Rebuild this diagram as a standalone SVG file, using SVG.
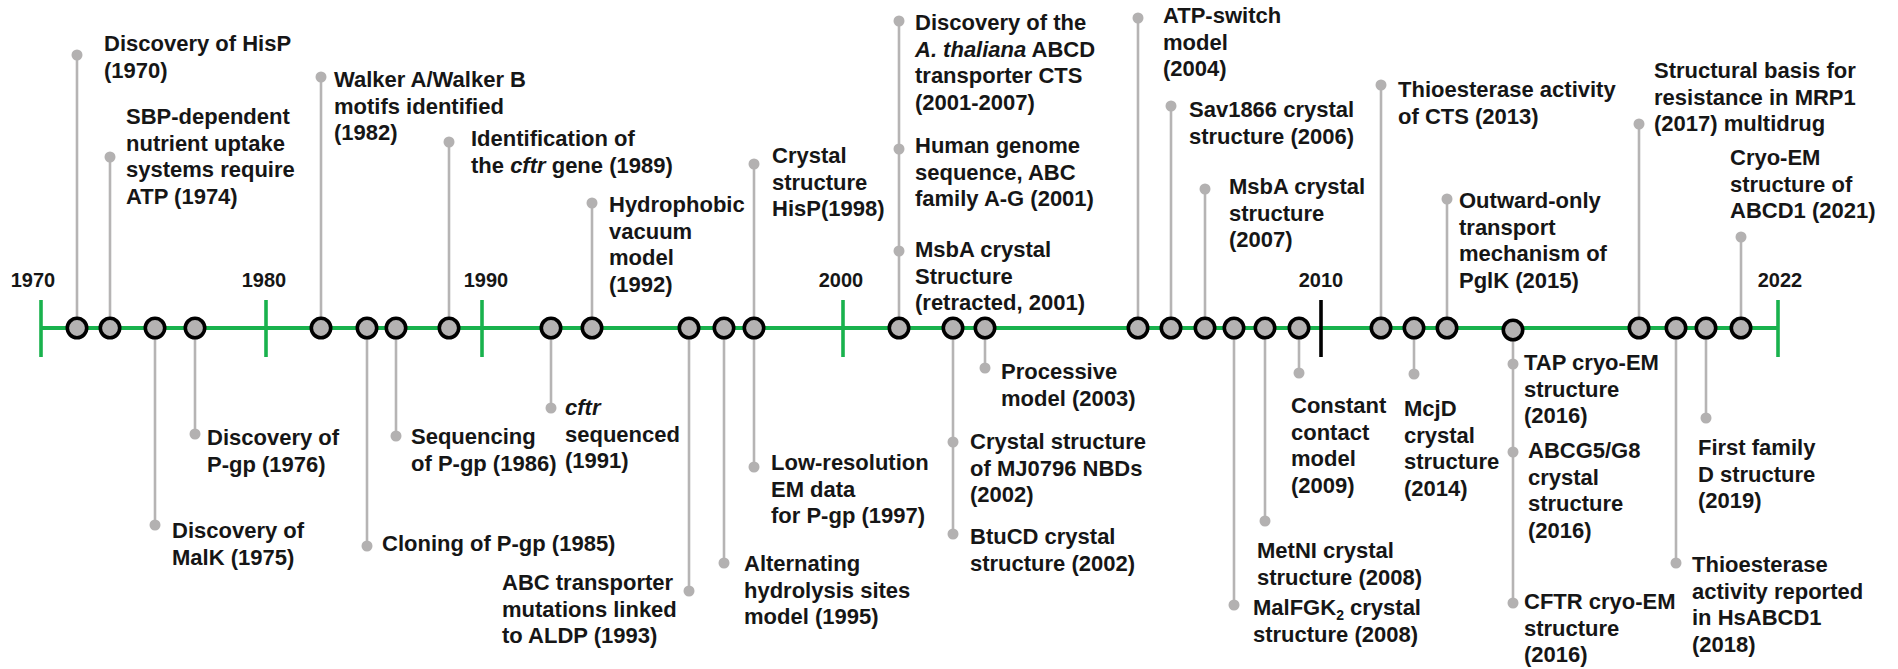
<svg xmlns="http://www.w3.org/2000/svg" width="1898" height="669" viewBox="0 0 1898 669">
<style>
.stem{stroke:#b6b4b4;stroke-width:2.6;fill:none}
.dot{fill:#b3b1b1}
.ev{fill:#b4b2b2;stroke:#000;stroke-width:3.6}
.axis{stroke:#19b24d;stroke-width:4;fill:none}
.tick{stroke:#19b24d;stroke-width:3.6}
.tick10{stroke:#000;stroke-width:3.6}
text{font-family:"Liberation Sans",Arial,sans-serif;font-weight:bold;fill:#161616}
.lbl{font-size:22px}
.yr{font-size:20px;text-anchor:middle}
.it{font-style:italic}
</style>
<rect width="1898" height="669" fill="#fff"/>
<g id="connectors">
<line class="stem" x1="77" y1="318" x2="77" y2="55"/>
<line class="stem" x1="110" y1="318" x2="110" y2="157"/>
<line class="stem" x1="155" y1="338" x2="155" y2="525"/>
<line class="stem" x1="195" y1="338" x2="195" y2="434"/>
<line class="stem" x1="321" y1="318" x2="321" y2="77"/>
<line class="stem" x1="367" y1="338" x2="367" y2="546"/>
<line class="stem" x1="396" y1="338" x2="396" y2="436"/>
<line class="stem" x1="449" y1="318" x2="449" y2="142"/>
<line class="stem" x1="551" y1="338" x2="551" y2="408"/>
<line class="stem" x1="592" y1="318" x2="592" y2="203"/>
<line class="stem" x1="689" y1="338" x2="689" y2="591"/>
<line class="stem" x1="724" y1="338" x2="724" y2="563"/>
<line class="stem" x1="754" y1="318" x2="754" y2="164"/>
<line class="stem" x1="754" y1="338" x2="754" y2="467"/>
<line class="stem" x1="899" y1="318" x2="899" y2="21"/>
<line class="stem" x1="953" y1="338" x2="953" y2="534"/>
<line class="stem" x1="985" y1="338" x2="985" y2="368"/>
<line class="stem" x1="1138" y1="318" x2="1138" y2="18"/>
<line class="stem" x1="1171" y1="318" x2="1171" y2="106"/>
<line class="stem" x1="1205" y1="318" x2="1205" y2="189"/>
<line class="stem" x1="1234" y1="338" x2="1234" y2="605"/>
<line class="stem" x1="1265" y1="338" x2="1265" y2="521"/>
<line class="stem" x1="1299" y1="338" x2="1299" y2="373"/>
<line class="stem" x1="1381" y1="318" x2="1381" y2="85"/>
<line class="stem" x1="1414" y1="338" x2="1414" y2="374"/>
<line class="stem" x1="1447" y1="318" x2="1447" y2="199"/>
<line class="stem" x1="1513" y1="340" x2="1513" y2="603"/>
<line class="stem" x1="1639" y1="318" x2="1639" y2="124"/>
<line class="stem" x1="1676" y1="338" x2="1676" y2="563"/>
<line class="stem" x1="1706" y1="338" x2="1706" y2="418"/>
<line class="stem" x1="1741" y1="318" x2="1741" y2="237"/>
</g>
<g id="axis">
<line class="axis" x1="41" y1="328" x2="1778" y2="328"/>
<line class="tick" x1="41" y1="300" x2="41" y2="357"/>
<line class="tick" x1="266" y1="300" x2="266" y2="357"/>
<line class="tick" x1="482" y1="300" x2="482" y2="357"/>
<line class="tick" x1="843" y1="300" x2="843" y2="357"/>
<line class="tick10" x1="1321" y1="300" x2="1321" y2="357"/>
<line class="tick" x1="1778" y1="300" x2="1778" y2="357"/>
<text class="yr" x="33" y="287">1970</text>
<text class="yr" x="264" y="287">1980</text>
<text class="yr" x="486" y="287">1990</text>
<text class="yr" x="841" y="287">2000</text>
<text class="yr" x="1321" y="287">2010</text>
<text class="yr" x="1780" y="287">2022</text>
</g>
<g id="e1970"><circle class="dot" cx="77" cy="55" r="5.5"/><circle class="ev" cx="77" cy="328" r="9.7"/>
<text class="lbl" x="104" y="51">Discovery of HisP<tspan x="104" dy="26.7">(1970)</tspan></text></g>
<g id="e1974"><circle class="dot" cx="110" cy="157" r="5.5"/><circle class="ev" cx="110" cy="328" r="9.7"/>
<text class="lbl" x="126" y="124">SBP-dependent<tspan x="126" dy="26.7">nutrient uptake</tspan><tspan x="126" dy="26.7">systems require</tspan><tspan x="126" dy="26.7">ATP (1974)</tspan></text></g>
<g id="e1975"><circle class="dot" cx="155" cy="525" r="5.5"/><circle class="ev" cx="155" cy="328" r="9.7"/>
<text class="lbl" x="172" y="538">Discovery of<tspan x="172" dy="26.7">MalK (1975)</tspan></text></g>
<g id="e1976"><circle class="dot" cx="195" cy="434" r="5.5"/><circle class="ev" cx="195" cy="328" r="9.7"/>
<text class="lbl" x="207" y="445">Discovery of<tspan x="207" dy="26.7">P-gp (1976)</tspan></text></g>
<g id="e1982"><circle class="dot" cx="321" cy="77" r="5.5"/><circle class="ev" cx="321" cy="328" r="9.7"/>
<text class="lbl" x="334" y="87">Walker A/Walker B<tspan x="334" dy="26.7">motifs identified</tspan><tspan x="334" dy="26.7">(1982)</tspan></text></g>
<g id="e1985"><circle class="dot" cx="367" cy="546" r="5.5"/><circle class="ev" cx="367" cy="328" r="9.7"/>
<text class="lbl" x="382" y="551">Cloning of P-gp (1985)</text></g>
<g id="e1986"><circle class="dot" cx="396" cy="436" r="5.5"/><circle class="ev" cx="396" cy="328" r="9.7"/>
<text class="lbl" x="411" y="444">Sequencing<tspan x="411" dy="26.7">of P-gp (1986)</tspan></text></g>
<g id="e1989"><circle class="dot" cx="449" cy="142" r="5.5"/><circle class="ev" cx="449" cy="328" r="9.7"/>
<text class="lbl" x="471" y="146">Identification of<tspan x="471" dy="26.7">the <tspan class="it">cftr</tspan> gene (1989)</tspan></text></g>
<g id="e1991"><circle class="dot" cx="551" cy="408" r="5.5"/><circle class="ev" cx="551" cy="328" r="9.7"/>
<text class="lbl" x="565" y="415"><tspan class="it">cftr</tspan><tspan x="565" dy="26.7">sequenced</tspan><tspan x="565" dy="26.7">(1991)</tspan></text></g>
<g id="e1992"><circle class="dot" cx="592" cy="203" r="5.5"/><circle class="ev" cx="592" cy="328" r="9.7"/>
<text class="lbl" x="609" y="212">Hydrophobic<tspan x="609" dy="26.7">vacuum</tspan><tspan x="609" dy="26.7">model</tspan><tspan x="609" dy="26.7">(1992)</tspan></text></g>
<g id="e1993"><circle class="dot" cx="689" cy="591" r="5.5"/><circle class="ev" cx="689" cy="328" r="9.7"/>
<text class="lbl" x="502" y="590">ABC transporter<tspan x="502" dy="26.7">mutations linked</tspan><tspan x="502" dy="26.7">to ALDP (1993)</tspan></text></g>
<g id="e1995"><circle class="dot" cx="724" cy="563" r="5.5"/><circle class="ev" cx="724" cy="328" r="9.7"/>
<text class="lbl" x="744" y="571">Alternating<tspan x="744" dy="26.7">hydrolysis sites</tspan><tspan x="744" dy="26.7">model (1995)</tspan></text></g>
<g id="e1997-1998"><circle class="dot" cx="754" cy="164" r="5.5"/><circle class="dot" cx="754" cy="467" r="5.5"/><circle class="ev" cx="754" cy="328" r="9.7"/>
<text class="lbl" x="772" y="163">Crystal<tspan x="772" dy="26.7">structure</tspan><tspan x="772" dy="26.7">HisP(1998)</tspan></text>
<text class="lbl" x="771" y="470">Low-resolution<tspan x="771" dy="26.7">EM data</tspan><tspan x="771" dy="26.7">for P-gp (1997)</tspan></text></g>
<g id="e2001"><circle class="dot" cx="899" cy="21" r="5.5"/><circle class="dot" cx="899" cy="149" r="5.5"/><circle class="dot" cx="899" cy="251" r="5.5"/><circle class="ev" cx="899" cy="328" r="9.7"/>
<text class="lbl" x="915" y="30">Discovery of the<tspan x="915" dy="26.7"><tspan class="it">A. thaliana</tspan> ABCD</tspan><tspan x="915" dy="26.7">transporter CTS</tspan><tspan x="915" dy="26.7">(2001-2007)</tspan></text>
<text class="lbl" x="915" y="153">Human genome<tspan x="915" dy="26.7">sequence, ABC</tspan><tspan x="915" dy="26.7">family A-G (2001)</tspan></text>
<text class="lbl" x="915" y="257">MsbA crystal<tspan x="915" dy="26.7">Structure</tspan><tspan x="915" dy="26.7">(retracted, 2001)</tspan></text></g>
<g id="e2002"><circle class="dot" cx="953" cy="442" r="5.5"/><circle class="dot" cx="953" cy="534" r="5.5"/><circle class="ev" cx="953" cy="328" r="9.7"/>
<text class="lbl" x="970" y="449">Crystal structure<tspan x="970" dy="26.7">of MJ0796 NBDs</tspan><tspan x="970" dy="26.7">(2002)</tspan></text>
<text class="lbl" x="970" y="544">BtuCD crystal<tspan x="970" dy="26.7">structure (2002)</tspan></text></g>
<g id="e2003"><circle class="dot" cx="985" cy="368" r="5.5"/><circle class="ev" cx="985" cy="328" r="9.7"/>
<text class="lbl" x="1001" y="379">Processive<tspan x="1001" dy="26.7">model (2003)</tspan></text></g>
<g id="e2004"><circle class="dot" cx="1138" cy="18" r="5.5"/><circle class="ev" cx="1138" cy="328" r="9.7"/>
<text class="lbl" x="1163" y="23">ATP-switch<tspan x="1163" dy="26.7">model</tspan><tspan x="1163" dy="26.7">(2004)</tspan></text></g>
<g id="e2006"><circle class="dot" cx="1171" cy="106" r="5.5"/><circle class="ev" cx="1171" cy="328" r="9.7"/>
<text class="lbl" x="1189" y="117">Sav1866 crystal<tspan x="1189" dy="26.7">structure (2006)</tspan></text></g>
<g id="e2007"><circle class="dot" cx="1205" cy="189" r="5.5"/><circle class="ev" cx="1205" cy="328" r="9.7"/>
<text class="lbl" x="1229" y="194">MsbA crystal<tspan x="1229" dy="26.7">structure</tspan><tspan x="1229" dy="26.7">(2007)</tspan></text></g>
<g id="e2008a"><circle class="dot" cx="1234" cy="605" r="5.5"/><circle class="ev" cx="1234" cy="328" r="9.7"/>
<text class="lbl" x="1253" y="615">MalFGK<tspan font-size="14" dy="5">2</tspan><tspan dy="-5"> crystal</tspan><tspan x="1253" dy="26.7">structure (2008)</tspan></text></g>
<g id="e2008b"><circle class="dot" cx="1265" cy="521" r="5.5"/><circle class="ev" cx="1265" cy="328" r="9.7"/>
<text class="lbl" x="1257" y="558">MetNI crystal<tspan x="1257" dy="26.7">structure (2008)</tspan></text></g>
<g id="e2009"><circle class="dot" cx="1299" cy="373" r="5.5"/><circle class="ev" cx="1299" cy="328" r="9.7"/>
<text class="lbl" x="1291" y="413">Constant<tspan x="1291" dy="26.7">contact</tspan><tspan x="1291" dy="26.7">model</tspan><tspan x="1291" dy="26.7">(2009)</tspan></text></g>
<g id="e2013"><circle class="dot" cx="1381" cy="85" r="5.5"/><circle class="ev" cx="1381" cy="328" r="9.7"/>
<text class="lbl" x="1398" y="97">Thioesterase activity<tspan x="1398" dy="26.7">of CTS (2013)</tspan></text></g>
<g id="e2014"><circle class="dot" cx="1414" cy="374" r="5.5"/><circle class="ev" cx="1414" cy="328" r="9.7"/>
<text class="lbl" x="1404" y="416">McjD<tspan x="1404" dy="26.7">crystal</tspan><tspan x="1404" dy="26.7">structure</tspan><tspan x="1404" dy="26.7">(2014)</tspan></text></g>
<g id="e2015"><circle class="dot" cx="1447" cy="199" r="5.5"/><circle class="ev" cx="1447" cy="328" r="9.7"/>
<text class="lbl" x="1459" y="208">Outward-only<tspan x="1459" dy="26.7">transport</tspan><tspan x="1459" dy="26.7">mechanism of</tspan><tspan x="1459" dy="26.7">PglK (2015)</tspan></text></g>
<g id="e2016"><circle class="dot" cx="1513" cy="364" r="5.5"/><circle class="dot" cx="1513" cy="452" r="5.5"/><circle class="dot" cx="1513" cy="603" r="5.5"/><circle class="ev" cx="1513" cy="330" r="9.7"/>
<text class="lbl" x="1524" y="370">TAP cryo-EM<tspan x="1524" dy="26.7">structure</tspan><tspan x="1524" dy="26.7">(2016)</tspan></text>
<text class="lbl" x="1528" y="458">ABCG5/G8<tspan x="1528" dy="26.7">crystal</tspan><tspan x="1528" dy="26.7">structure</tspan><tspan x="1528" dy="26.7">(2016)</tspan></text>
<text class="lbl" x="1524" y="609">CFTR cryo-EM<tspan x="1524" dy="26.7">structure</tspan><tspan x="1524" dy="26.7">(2016)</tspan></text></g>
<g id="e2017"><circle class="dot" cx="1639" cy="124" r="5.5"/><circle class="ev" cx="1639" cy="328" r="9.7"/>
<text class="lbl" x="1654" y="78">Structural basis for<tspan x="1654" dy="26.7">resistance in MRP1</tspan><tspan x="1654" dy="26.7">(2017) multidrug</tspan></text></g>
<g id="e2018"><circle class="dot" cx="1676" cy="563" r="5.5"/><circle class="ev" cx="1676" cy="328" r="9.7"/>
<text class="lbl" x="1692" y="572">Thioesterase<tspan x="1692" dy="26.7">activity reported</tspan><tspan x="1692" dy="26.7">in HsABCD1</tspan><tspan x="1692" dy="26.7">(2018)</tspan></text></g>
<g id="e2019"><circle class="dot" cx="1706" cy="418" r="5.5"/><circle class="ev" cx="1706" cy="328" r="9.7"/>
<text class="lbl" x="1698" y="455">First family<tspan x="1698" dy="26.7">D structure</tspan><tspan x="1698" dy="26.7">(2019)</tspan></text></g>
<g id="e2021"><circle class="dot" cx="1741" cy="237" r="5.5"/><circle class="ev" cx="1741" cy="328" r="9.7"/>
<text class="lbl" x="1730" y="165">Cryo-EM<tspan x="1730" dy="26.7">structure of</tspan><tspan x="1730" dy="26.7">ABCD1 (2021)</tspan></text></g>
</svg>
